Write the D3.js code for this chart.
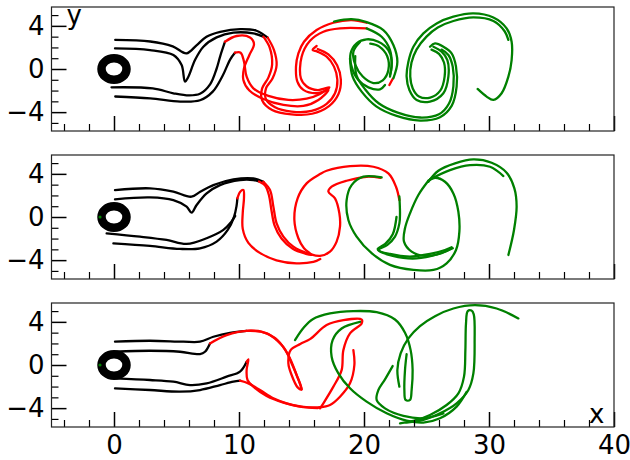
<!DOCTYPE html>
<html><head><meta charset="utf-8">
<script src="https://cdnjs.cloudflare.com/ajax/libs/d3/7.8.5/d3.min.js"></script>
<style>
body{margin:0;background:#fff}
svg text{font-family:"DejaVu Sans",sans-serif;font-size:26px;fill:#000}
</style></head><body><svg id="c" width="630" height="460"></svg>
<script>
"use strict";
// tick values
const X_TICKS = [0, 10, 20, 30, 40];
const X_MINOR = [-4, -2, 2, 4, 6, 8, 12, 14, 16, 18, 22, 24, 26, 28, 32, 34, 36, 38];
const Y_TICKS = [-4, 0, 4];
const Y_MINOR = [-5, -3, -2, -1, 1, 2, 3, 5];
const CYLINDER = [0, 0, 1];          // cx, cy, r
const TRACER = [-1.12, 0];           // small green point on the cylinder (panels 2, 3)

// ---- panel 1 streaklines
const P1_BLACK = [
  [[0.1,2.7],[2.9,2.55],[4.7,2.1],[5.8,1.45],[6.6,2.2],[7.4,3.0],[8.5,3.45],[10.1,3.7],[11.4,3.55],[12.3,2.9]],
  [[0.08,1.91],[2.88,1.76],[4.75,1.29],[5.41,0.36],[5.68,-1.17],[5.95,-0.72],[6.48,0.83],[7.15,2.07],[8.21,2.93],[9.55,3.37],[11.15,3.3],[11.95,3.0]],
  [[-0.2,-1.7],[3.1,-1.8],[4.75,-2.25],[6.0,-2.45],[6.88,-2.3],[7.7,-1.4],[8.2,0.0],[8.5,1.2],[8.88,2.53]],
  [[0.1,-2.55],[2.9,-2.72],[5.3,-3.02],[6.88,-2.9],[7.9,-2.1],[8.7,-0.6],[9.3,0.9],[9.68,1.51]]
];
const P1_RED = [
  [[8.88,2.53],[9.81,3.06],[10.88,2.93],[11.2,2.32],[10.83,1.3],[10.4,0.06],[10.35,-1.02],[10.83,-2.0],[11.95,-2.78],[13.55,-3.33],[15.15,-3.42],[16.35,-2.87],[17.15,-1.94],[16.21,-2.25],[15.15,-1.94],[14.67,-1.17],[14.56,0.22],[14.75,1.45],[15.2,2.53],[16.21,3.61],[17.55,4.29],[19.01,4.54],[20.21,4.29]],
  [[9.68,1.51],[10.13,1.51],[10.4,0.68],[10.61,-0.71],[11.15,-1.79],[12.35,-2.5],[13.95,-2.87],[15.41,-2.75],[16.48,-2.31],[17.23,-1.7],[16.3,-1.95],[15.4,-1.6],[14.95,-0.86],[15.01,1.14],[15.68,2.62],[16.75,3.46],[18.08,3.77],[20.21,3.77]],
  [[12.3,2.9],[12.8,1.76],[13.01,0.37],[12.69,-0.86],[12.16,-1.79],[12.16,-2.81],[12.88,-3.55],[14.21,-3.95],[15.81,-3.89],[17.01,-3.24],[17.68,-2.25],[17.87,-1.02],[17.6,0.22],[17.01,1.14],[16.27,1.61],[15.89,1.76],[16.21,2.13]],
  [[11.95,3.0],[12.45,2.0],[12.65,0.4],[12.35,-0.8],[11.85,-1.8],[11.85,-2.9],[12.65,-3.8],[14.2,-4.2],[15.85,-4.15],[17.2,-3.45],[17.95,-2.35],[18.15,-1.0],[17.85,0.35],[17.15,1.35],[16.3,1.85]],
  [[22.3,-0.9],[22.03,-1.48]]
];
const P1_GREEN = [
  [[17.6,4.4],[19.0,4.62],[20.21,4.35],[21.55,3.61],[22.35,2.22],[22.67,0.68],[22.35,-0.86]],
  [[20.21,3.77],[21.41,2.99],[22.08,1.76],[22.21,0.22],[22.08,-0.56]],
  [[22.08,-0.71],[22.21,0.83],[21.95,1.76],[21.15,2.53],[20.21,2.75],[19.41,2.38],[18.93,1.45],[19.01,0.22],[19.55,-1.02],[20.35,-1.7],[21.28,-1.88],[21.68,-1.48]],
  [[19.68,2.5],[19.15,1.6],[19.3,0.4],[19.9,-0.7],[20.75,-1.3],[21.5,-1.05],[21.95,-0.1],[21.85,1.2],[21.2,2.1],[20.5,2.35]],
  [[18.88,0.99],[19.09,-0.71],[19.81,-2.1],[21.01,-3.49],[22.61,-4.35],[24.48,-4.78],[26.08,-4.47],[27.01,-3.42],[27.41,-1.64],[27.36,0.22],[27.01,1.45],[26.35,2.07],[25.68,2.38],[25.28,2.07]],
  [[19.3,1.2],[19.4,-0.6],[20.1,-1.9],[21.2,-3.2],[22.7,-4.05],[24.5,-4.5],[26.0,-4.2],[26.8,-3.2],[27.15,-1.6],[27.1,0.2],[26.75,1.3],[26.2,1.8]],
  [[25.55,2.07],[26.21,1.61],[26.67,0.83],[26.75,-0.71],[26.35,-2.25],[25.28,-3.02],[24.21,-2.87],[23.63,-1.94],[23.41,-0.71],[23.55,0.68],[23.95,2.07],[24.75,3.3],[25.81,4.23],[27.15,4.85],[28.75,5.16],[30.35,4.78],[31.41,3.77],[31.81,2.53],[31.81,0.83],[31.55,-0.71],[31.01,-2.25],[30.35,-2.87],[29.81,-2.56],[29.09,-1.85]],
  [[25.4,1.8],[26.0,1.4],[26.4,0.6],[26.45,-0.7],[26.1,-2.0],[25.3,-2.65],[24.4,-2.55],[23.9,-1.8],[23.7,-0.7],[23.8,0.6],[24.2,1.8],[25.0,3.0],[25.9,3.85],[27.15,4.45],[28.75,4.78],[30.35,4.45],[31.25,3.5],[31.55,2.7]]
];

// ---- panel 2 streaklines
const P2_BLACK = [
  [[0.08,2.5],[2.88,2.66],[4.75,2.35],[6.2,1.88],[6.9,2.35],[7.95,2.96],[9.55,3.49],[11.15,3.58],[11.95,3.27]],
  [[0.08,1.64],[2.88,1.82],[4.75,1.57],[5.81,0.96],[6.21,0.4],[6.61,1.11],[7.41,2.19],[8.48,2.96],[10.08,3.43],[11.15,3.43],[11.6,3.3]],
  [[-0.59,-1.51],[2.08,-1.82],[4.21,-2.13],[5.81,-2.5],[7.41,-1.97],[8.75,-1.2],[9.35,-0.5],[9.7,0.1]],
  [[-0.05,-2.44],[2.88,-2.68],[5.28,-2.96],[6.88,-2.9],[8.21,-2.28],[9.1,-1.2],[9.6,0.0],[9.8,1.0],[9.87,1.73]]
];
const P2_RED = [
  [[9.87,1.73],[10.1,2.35],[10.35,2.5],[10.4,1.8],[10.3,0.4],[10.3,-1.1],[10.75,-2.4],[11.7,-3.35],[13.0,-4.02],[14.6,-4.3],[15.95,-4.17],[16.5,-3.9]],
  [[11.95,3.27],[12.48,2.5],[12.75,0.96],[13.01,-0.59],[13.55,-1.82],[14.35,-2.75],[15.68,-3.43],[16.48,-3.61],[17.28,-3.21],[17.81,-2.28],[18.08,-0.89],[18.03,0.34],[17.68,1.73],[17.15,2.35],[17.41,2.81],[18.61,3.36],[20.21,3.73],[21.33,3.64]],
  [[11.6,3.3],[12.1,2.9],[12.4,2.0],[12.6,0.6],[12.85,-0.8],[13.4,-2.0],[14.3,-2.95],[15.3,-3.4],[15.81,-3.52],[15.2,-2.9],[14.75,-1.97],[14.43,-0.28],[14.69,1.73],[15.41,3.12],[16.48,3.98],[17.01,4.29],[18.88,4.72],[20.75,4.66],[21.95,4.04],[22.56,2.81],[22.83,1.57]]
];
const P2_GREEN = [
  [[22.83,1.9],[22.88,0.3],[22.83,-0.59],[22.48,-1.82],[21.87,-2.59],[21.15,-3.06],[22.08,-3.43],[23.68,-3.67],[25.28,-3.43],[26.48,-3.06],[27.01,-2.81]],
  [[22.6,0.0],[22.3,-1.6],[21.7,-2.5],[21.1,-2.95],[21.2,-3.15],[22.3,-3.6],[23.9,-3.85],[25.4,-3.6],[26.6,-3.15],[27.1,-2.9]],
  [[21.41,3.67],[19.95,3.74],[19.01,2.96],[18.61,1.57],[18.75,-0.28],[19.41,-1.82],[20.61,-3.36],[22.08,-4.44],[23.95,-4.91],[25.55,-4.91],[26.61,-4.29],[27.36,-3.06],[27.63,-1.36],[27.55,0.49],[27.15,2.19],[26.48,3.27],[25.68,3.64],[25.15,3.36]],
  [[25.15,3.36],[24.35,2.04],[23.68,0.34],[23.28,-1.05],[23.2,-2.28],[23.81,-3.21],[24.88,-3.61],[26.21,-3.36],[27.01,-2.9]],
  [[25.15,3.27],[25.95,4.29],[27.28,4.97],[28.75,5.34],[30.21,5.03],[31.41,4.11],[32.03,2.66],[32.21,0.96],[32.0,-1.2],[31.55,-3.52]],
  [[25.28,3.49],[26.88,4.35],[28.48,4.81],[30.08,4.66],[31.15,3.8]]
];

// ---- panel 3 streaklines
const P3_BLACK = [
  [[0.08,2.16],[2.88,2.25],[5.55,2.16],[6.88,2.16],[7.95,2.62],[9.28,2.99],[10.61,3.17]],
  [[0.08,1.23],[2.88,1.32],[5.28,1.23],[6.88,1.01],[7.28,1.23],[7.68,2.0]],
  [[0.08,-1.24],[2.88,-1.39],[4.75,-1.55],[6.08,-1.86],[7.41,-1.7],[9.01,-1.08],[10.08,-0.62],[10.61,0.3]],
  [[0.08,-2.16],[2.88,-2.32],[5.28,-2.47],[6.88,-2.32],[8.48,-1.86],[9.55,-1.55],[10.08,-1.45]]
];
const P3_RED = [
  [[7.68,2.0],[9.01,2.77],[10.61,3.17],[12.21,2.93],[13.41,1.85],[14.08,0.61],[14.61,-0.93],[15.01,-2.26],[14.69,-2.07],[14.21,-0.93],[13.95,0.15],[14.13,1.38],[14.9,1.95],[15.68,2.4],[17.01,3.7],[18.35,4.16],[19.81,4.22],[19.81,3.85],[18.88,2.93],[18.35,1.38],[18.21,-0.47],[17.55,-2.01],[16.75,-3.55],[16.48,-4.02]],
  [[10.61,3.17],[11.8,3.1],[12.9,2.5],[13.7,1.4],[14.3,-0.1],[14.8,-1.5],[15.01,-2.26]],
  [[10.08,-1.45],[10.75,-1.7],[11.68,-2.32],[12.75,-3.09],[13.81,-3.55],[15.01,-3.86],[16.48,-3.92],[17.28,-3.71],[18.08,-2.94],[18.88,-1.7],[19.23,0],[19.15,1.38]],
  [[10.61,0.3],[10.75,0.52],[10.61,-0.47],[10.68,-1.39],[11.15,-2.01],[12.21,-2.87],[13.55,-3.49],[14.88,-3.86],[16.3,-4.0]]
];
const P3_GREEN = [
  [[14.48,2.31],[15.2,3.5],[15.9,4.25],[17.28,4.78],[19.15,5.0],[21.01,4.9],[22.48,4.22],[23.28,2.99],[23.73,1.38],[23.89,-0.47],[23.81,-2.32],[23.68,-3.24],[23.33,-3.24],[23.23,-2.32],[23.28,-0.47],[23.41,1.0]],
  [[22.83,-2.01],[22.67,-0.47],[22.93,1.08],[23.55,2.47],[24.48,3.61],[25.68,4.53],[27.15,5.24],[28.88,5.55],[30.61,5.24],[32.35,4.32]],
  [[22.88,-5.41],[23.95,-5.19],[25.28,-4.63],[26.61,-3.71],[27.55,-2.63],[28.0,-1.08],[28.11,1.38],[28.16,3.85],[28.3,5.0],[28.6,5.05],[28.78,4.7],[28.85,2.31],[28.75,-0.78],[28.35,-2.32],[27.41,-3.55],[26.08,-4.48],[24.75,-5.1],[23.41,-5.34]],
  [[19.68,4.01],[18.21,3.39],[17.49,2.31],[17.41,0.77],[17.95,-0.78],[18.88,-2.16],[20.21,-3.4],[21.81,-4.48],[23.41,-5.16],[24.75,-5.34],[26.08,-4.94],[27.41,-3.86],[28.2,-2.5]],
  [[22.29,-0.1],[21.68,-1.33],[21.15,-2.32],[21.01,-3.24],[21.68,-4.02],[23.15,-4.72],[24.75,-4.94],[26.35,-4.48]]
];

const PANELS = [
  { black: P1_BLACK, red: P1_RED, green: P1_GREEN, tracer: false },
  { black: P2_BLACK, red: P2_RED, green: P2_GREEN, tracer: true },
  { black: P3_BLACK, red: P3_RED, green: P3_GREEN, tracer: true }
];

const svg = d3.select("#c");
const L = 51.5, R = 614, H = 124, TOPS = [7, 155, 303];
const x = d3.scaleLinear().domain([-5, 40]).range([L, R]);
const y = d3.scaleLinear().domain([-5.75, 5.75]).range([H, 0]);
const line = d3.line().x((d) => x(d[0])).y((d) => y(d[1])).curve(d3.curveCatmullRom.alpha(0.5));

PANELS.forEach((p, i) => {
  const last = i === PANELS.length - 1;
  const g = svg.append("g").attr("transform", `translate(0,${TOPS[i]})`);
  const clipId = "clip" + i;
  g.append("clipPath").attr("id", clipId).append("rect")
    .attr("x", L).attr("y", 0).attr("width", R - L).attr("height", H);

  const plot = g.append("g").attr("clip-path", `url(#${clipId})`);
  const draw = (curves, color) => plot.append("g").selectAll("path").data(curves).join("path")
    .attr("d", line).attr("fill", "none").attr("stroke", color)
    .attr("stroke-width", 2.3).attr("stroke-linejoin", "round").attr("stroke-linecap", "round");
  draw(p.black, "#000");
  draw(p.red, "#ff0000");
  draw(p.green, "#008000");

  plot.append("ellipse")
    .attr("cx", x(CYLINDER[0])).attr("cy", y(CYLINDER[1]))
    .attr("rx", x(CYLINDER[2]) - x(0)).attr("ry", y(0) - y(CYLINDER[2]))
    .attr("fill", "none").attr("stroke", "#000").attr("stroke-width", 8.5);
  if (p.tracer) plot.append("circle").attr("cx", x(TRACER[0])).attr("cy", y(TRACER[1])).attr("r", 1.6).attr("fill", "#008000");

  // axes, ticks pointing inward
  const ax = (axis) => {
    const a = g.append("g");
    a.call(axis);
    a.select(".domain").remove();
    return a;
  };
  ax(d3.axisBottom(x).tickValues(X_MINOR).tickSize(-7).tickFormat(""))
    .attr("transform", `translate(0,${H})`).selectAll("line").attr("stroke-width", 1.2);
  ax(d3.axisBottom(x).tickValues(X_TICKS).tickSize(-15).tickPadding(9).tickFormat(last ? d3.format("d") : ""))
    .attr("transform", `translate(0,${H})`).selectAll("line").attr("stroke-width", 1.5);
  ax(d3.axisLeft(y).tickValues(Y_MINOR).tickSize(-7).tickFormat(""))
    .attr("transform", `translate(${L},0)`).selectAll("line").attr("stroke-width", 1.2);
  ax(d3.axisLeft(y).tickValues(Y_TICKS).tickSize(-15).tickPadding(7))
    .attr("transform", `translate(${L},0)`).selectAll("line").attr("stroke-width", 1.5);

  g.append("rect").attr("x", L).attr("y", 0).attr("width", R - L).attr("height", H)
    .attr("fill", "none").attr("stroke", "#222").attr("stroke-width", 1.2);

  if (i === 0) g.append("text").attr("x", x(-3.8)).attr("y", y(4.2)).text("y");
  if (last) g.append("text").attr("x", x(38)).attr("y", y(-5.4)).text("x");
});
</script></body></html>
